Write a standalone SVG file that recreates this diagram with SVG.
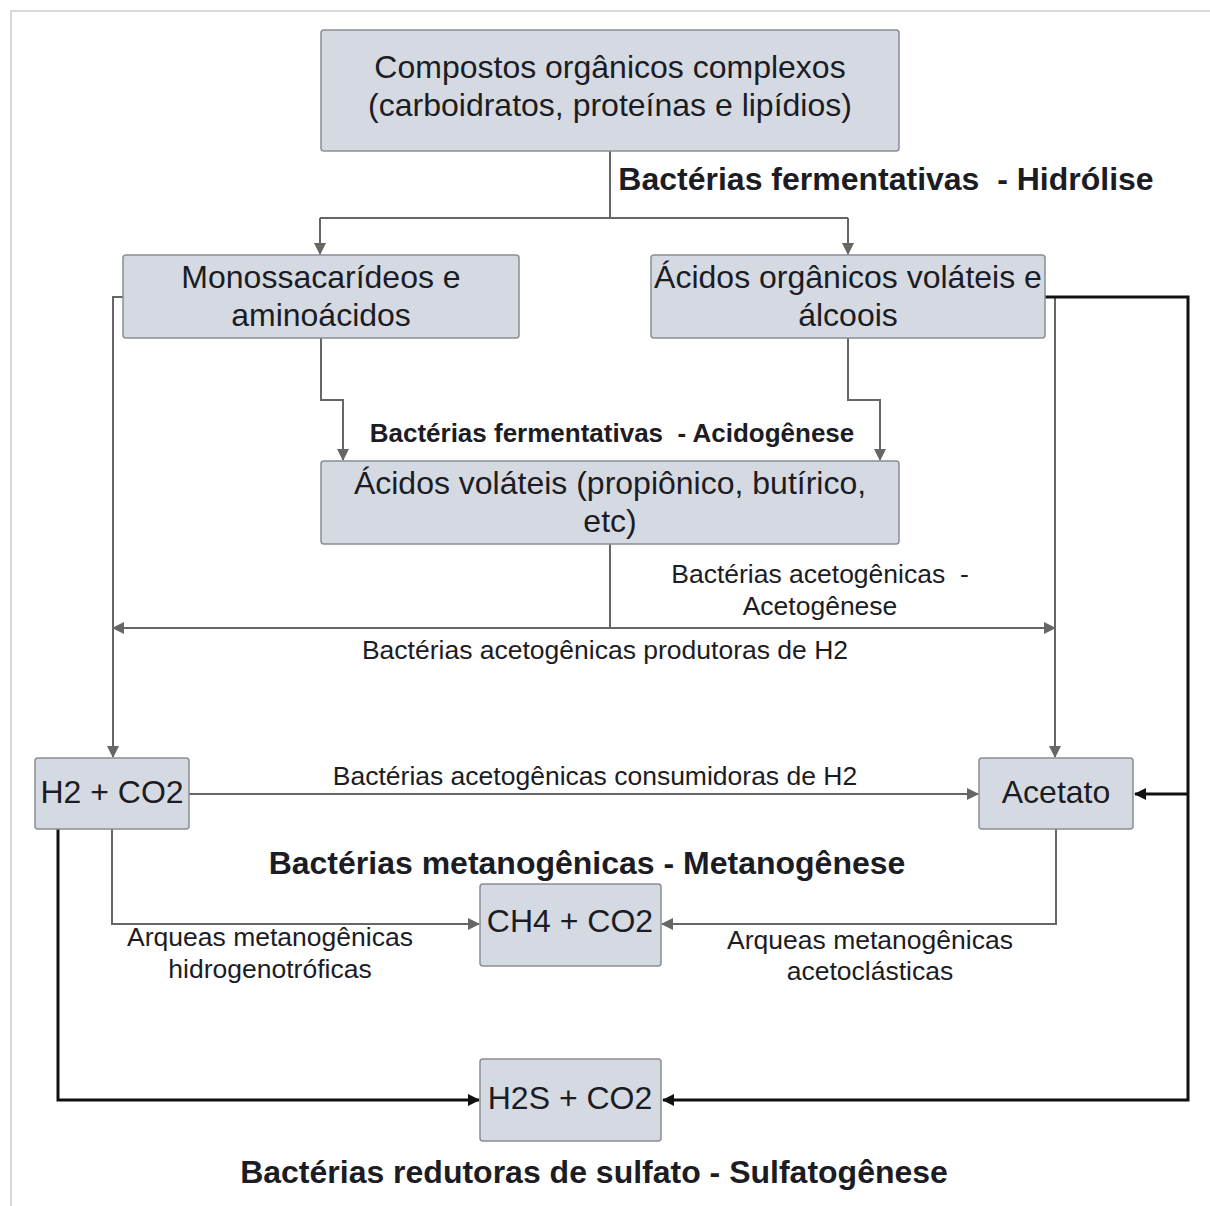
<svg xmlns="http://www.w3.org/2000/svg" width="1210" height="1206" viewBox="0 0 1210 1206">
<defs>
<marker id="ag" viewBox="0 0 12 12" refX="11" refY="6" markerWidth="12" markerHeight="12" markerUnits="userSpaceOnUse" orient="auto"><path d="M0,0 L12,6 L0,12 Z" fill="#666"/></marker>
<marker id="ab" viewBox="0 0 12 12" refX="11" refY="6" markerWidth="12" markerHeight="12" markerUnits="userSpaceOnUse" orient="auto"><path d="M0,0 L12,6 L0,12 Z" fill="#111"/></marker>
</defs>
<style>
.box{fill:#d5dae2;stroke:#8a8d92;stroke-width:1.5}
.t{font-family:"Liberation Sans",Arial,sans-serif;fill:#1c1c24;text-anchor:middle}
.big{font-size:32px}
.mid{font-size:26.5px}
.b{font-weight:bold}
.g{fill:none;stroke:#666;stroke-width:2}
.k{fill:none;stroke:#111;stroke-width:3}
</style>
<rect x="0" y="0" width="1210" height="1206" fill="#fff"/>
<rect x="11" y="11" width="1220" height="1220" fill="none" stroke="#d9d9d9" stroke-width="2"/>
<g id="connectors">
<path class="g" d="M610,151 V218"/>
<path class="g" d="M320,218 H848"/>
<path class="g" d="M320,218 V254" marker-end="url(#ag)"/>
<path class="g" d="M848,218 V254" marker-end="url(#ag)"/>
<path class="g" d="M321,338 V400 H343 V460" marker-end="url(#ag)"/>
<path class="g" d="M848,338 V400 H880 V460" marker-end="url(#ag)"/>
<path class="g" d="M610,544 V628"/>
<path class="g" d="M610,628 H113" marker-end="url(#ag)"/>
<path class="g" d="M610,628 H1055" marker-end="url(#ag)"/>
<path class="g" d="M123,297 H113 V757" marker-end="url(#ag)"/>
<path class="g" d="M1045,297 H1055 V757" marker-end="url(#ag)"/>
<path class="g" d="M189,794 H978" marker-end="url(#ag)"/>
<path class="g" d="M112,829 V924 H479" marker-end="url(#ag)"/>
<path class="g" d="M1056,829 V924 H662" marker-end="url(#ag)"/>
<path class="k" d="M1045,297 H1188 V1100 H663" marker-end="url(#ab)"/>
<path class="k" d="M1188,794 H1135" marker-end="url(#ab)"/>
<path class="k" d="M58,829 V1100 H479" marker-end="url(#ab)"/>
</g>
<g id="n-compostos"><rect class="box" x="321" y="30" width="578" height="121" rx="3"/>
<text class="t big" x="610" y="78">Compostos orgânicos complexos</text>
<text class="t big" x="610" y="116">(carboidratos, proteínas e lipídios)</text></g>
<g id="n-mono"><rect class="box" x="123" y="255" width="396" height="83" rx="3"/>
<text class="t big" x="321" y="288">Monossacarídeos e</text>
<text class="t big" x="321" y="326">aminoácidos</text></g>
<g id="n-acidorg"><rect class="box" x="651" y="255" width="394" height="83" rx="3"/>
<text class="t big" x="848" y="288">Ácidos orgânicos voláteis e</text>
<text class="t big" x="848" y="326">álcoois</text></g>
<g id="n-acvol"><rect class="box" x="321" y="461" width="578" height="83" rx="3"/>
<text class="t big" x="610" y="494">Ácidos voláteis (propiônico, butírico,</text>
<text class="t big" x="610" y="532">etc)</text></g>
<g id="n-h2co2"><rect class="box" x="35" y="758" width="154" height="71" rx="3"/>
<text class="t big" x="112" y="803">H2 + CO2</text></g>
<g id="n-acetato"><rect class="box" x="979" y="758" width="154" height="71" rx="3"/>
<text class="t big" x="1056" y="803">Acetato</text></g>
<g id="n-ch4"><rect class="box" x="480" y="884" width="181" height="82" rx="3"/>
<text class="t big" x="570" y="932">CH4 + CO2</text></g>
<g id="n-h2s"><rect class="box" x="480" y="1059" width="181" height="82" rx="3"/>
<text class="t big" x="570" y="1109">H2S + CO2</text></g>
<g id="labels">
<text class="t b" style="font-size:32px" x="886" y="190" xml:space="preserve">Bactérias fermentativas  - Hidrólise</text>
<text class="t b" style="font-size:26px" x="612" y="442" xml:space="preserve">Bactérias fermentativas  - Acidogênese</text>
<text class="t mid" x="820" y="583" xml:space="preserve">Bactérias acetogênicas  -</text>
<text class="t mid" x="820" y="615">Acetogênese</text>
<text class="t mid" x="605" y="659">Bactérias acetogênicas produtoras de H2</text>
<text class="t mid" x="595" y="785">Bactérias acetogênicas consumidoras de H2</text>
<text class="t b" style="font-size:32px" x="587" y="874">Bactérias metanogênicas - Metanogênese</text>
<text class="t mid" x="270" y="946">Arqueas metanogênicas</text>
<text class="t mid" x="270" y="978">hidrogenotróficas</text>
<text class="t mid" x="870" y="949">Arqueas metanogênicas</text>
<text class="t mid" x="870" y="980">acetoclásticas</text>
<text class="t b" style="font-size:32px" x="594" y="1183">Bactérias redutoras de sulfato - Sulfatogênese</text>
</g>
</svg>
